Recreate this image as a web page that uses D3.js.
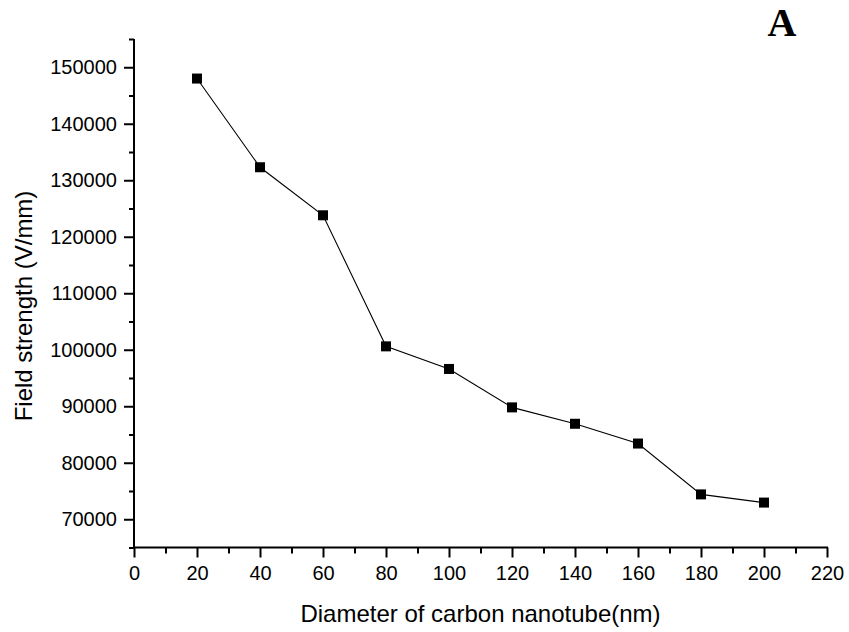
<!DOCTYPE html>
<html>
<head>
<meta charset="utf-8">
<script src="https://cdn.jsdelivr.net/npm/d3@7"></script>
<style>
  html, body { margin: 0; padding: 0; background: #fff; }
  svg { display: block; }
  text { font-family: "Liberation Sans", Arial, Helvetica, sans-serif; fill: #000; }
</style>
</head>
<body>
<svg id="chart" width="849" height="632"></svg>
<script>
// Measured field strength for each nanotube diameter
const diameters = [20, 40, 60, 80, 100, 120, 140, 160, 180, 200];
const fieldStrength = [148000, 132300, 123800, 100600, 96600, 89800, 86900, 83400, 74400, 72950];

const xMajorTicks = [0, 20, 40, 60, 80, 100, 120, 140, 160, 180, 200, 220];
const xMinorTicks = [10, 30, 50, 70, 90, 110, 130, 150, 170, 190, 210];
const yMajorTicks = [70000, 80000, 90000, 100000, 110000, 120000, 130000, 140000, 150000];
const yMinorTicks = [65000, 75000, 85000, 95000, 105000, 115000, 125000, 135000, 145000, 155000];

const xTitle = "Diameter of carbon nanotube(nm)";
const yTitle = "Field strength (V/mm)";
const panelLabel = "A";

const svg = d3.select("#chart");

const x = d3.scaleLinear().domain([0, 220]).range([134, 827]);
const y = d3.scaleLinear().domain([65000, 155000]).range([547.5, 39]);

// x axis: major ticks with labels, minor ticks without
const xAxis = svg.append("g").attr("transform", `translate(0,${y.range()[0]})`);
xAxis.call(d3.axisBottom(x).tickValues(xMajorTicks).tickSize(10).tickPadding(8).tickFormat(d3.format("d")));
xAxis.append("g").call(d3.axisBottom(x).tickValues(xMinorTicks).tickSize(6).tickFormat(""));

// y axis
const yAxis = svg.append("g").attr("transform", `translate(${x.range()[0]},0)`);
yAxis.call(d3.axisLeft(y).tickValues(yMajorTicks).tickSize(10).tickPadding(7).tickFormat(d3.format("d")));
yAxis.append("g").call(d3.axisLeft(y).tickValues(yMinorTicks).tickSize(5).tickFormat(""));

svg.selectAll(".domain").attr("stroke", "#000").attr("stroke-width", 2).attr("d", null);
// plain axis lines without the outer end caps
xAxis.select(".domain").attr("d", `M${x.range()[0]},0H${x.range()[1] + 1}`);
yAxis.select(".domain").attr("d", `M0,${y.range()[1]}V${y.range()[0] + 1}`);
xAxis.selectAll("g > .domain").filter(function () { return this.parentNode !== xAxis.node(); }).remove();
yAxis.selectAll("g > .domain").filter(function () { return this.parentNode !== yAxis.node(); }).remove();

svg.selectAll(".tick line").attr("stroke", "#000").attr("stroke-width", 2);
svg.selectAll(".tick text").attr("font-size", 20).attr("font-family", "Liberation Sans, Arial, sans-serif");

// Data line and square markers
const pts = diameters.map((d, i) => [d, fieldStrength[i]]);
svg.append("path")
  .datum(pts)
  .attr("fill", "none")
  .attr("stroke", "#000")
  .attr("stroke-width", 1.1)
  .attr("d", d3.line().x(d => x(d[0])).y(d => y(d[1])));

const s = 10;
svg.append("g").selectAll("rect")
  .data(pts)
  .join("rect")
  .attr("x", d => x(d[0]) - s / 2)
  .attr("y", d => y(d[1]) - s / 2)
  .attr("width", s)
  .attr("height", s)
  .attr("fill", "#000");

// Axis titles
svg.append("text")
  .attr("x", 480.5)
  .attr("y", 622)
  .attr("text-anchor", "middle")
  .attr("font-size", 24)
  .text(xTitle);

svg.append("text")
  .attr("transform", "translate(32,306) rotate(-90)")
  .attr("text-anchor", "middle")
  .attr("font-size", 24)
  .text(yTitle);

// Panel letter
svg.append("text")
  .attr("x", 782)
  .attr("y", 36)
  .attr("text-anchor", "middle")
  .attr("font-size", 40)
  .attr("font-weight", "bold")
  .style("font-family", "'Liberation Serif', 'Times New Roman', serif")
  .text(panelLabel);
</script>
</body>
</html>
